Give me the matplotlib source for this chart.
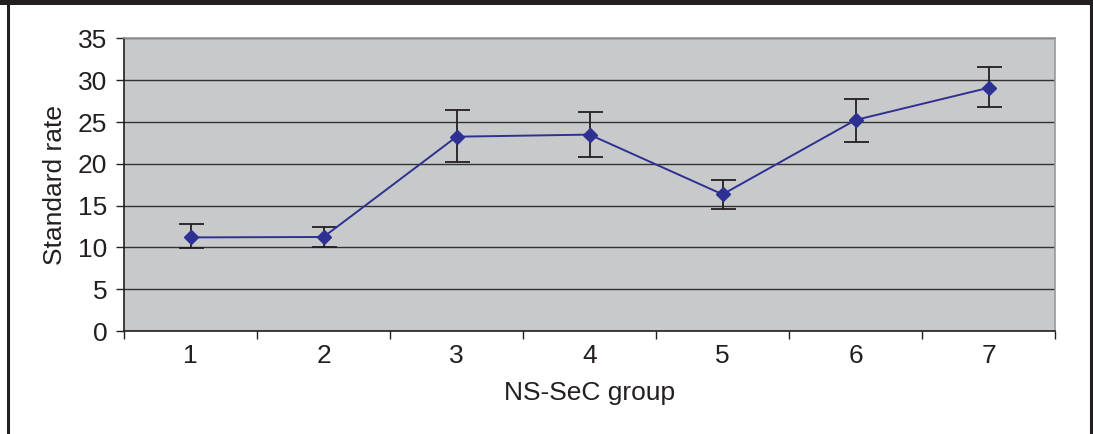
import matplotlib.pyplot as plt
from matplotlib.lines import Line2D
import numpy as np

plt.rcParams['font.family'] = ['Liberation Sans', 'DejaVu Sans']

# values
groups = [1, 2, 3, 4, 5, 6, 7]
rate = [11.2, 11.25, 23.25, 23.5, 16.35, 25.25, 29.1]
err_low = [9.9, 10.05, 20.2, 20.8, 14.6, 22.65, 26.8]
err_high = [12.8, 12.45, 26.4, 26.2, 18.05, 27.75, 31.6]

rate = np.array(rate)
yerr = [rate - np.array(err_low), np.array(err_high) - rate]

fig = plt.figure(figsize=(10.93, 4.34), dpi=100)
ax = fig.add_axes([0.1135, 0.2373, 0.8518, 0.674])
ax.set_facecolor('#C8C9CB')

txt = '#231F20'

# frame around the figure
fig.add_artist(plt.Rectangle((0, 1 - 5/434), 1, 5/434, transform=fig.transFigure,
                             color='#231F20', lw=0))
fig.add_artist(Line2D([7.5/1093, 7.5/1093], [0, 1], transform=fig.transFigure,
                      color='#231F20', lw=2.2))
fig.add_artist(Line2D([1090.5/1093, 1090.5/1093], [0, 1], transform=fig.transFigure,
                      color='#231F20', lw=2.2))

ax.errorbar(groups, rate, yerr=yerr, fmt='none', ecolor=txt, elinewidth=1.3,
            capsize=9, capthick=1.3, zorder=3)
ax.plot(groups, rate, color='#2E3192', lw=1.4, marker='D', markersize=7,
        markerfacecolor='#2E3192', markeredgecolor='#2E3192', zorder=4)

ax.set_ylim(0, 35)
ax.set_yticks(range(0, 36, 5))
ax.set_xlim(0.5, 7.5)
ax.set_xticks(groups)
ax.set_xticks(np.arange(0.5, 7.6, 1), minor=True)

ax.yaxis.grid(True, color='#333333', lw=1)
ax.set_axisbelow(True)

for s in ['top', 'right']:
    ax.spines[s].set_color('#9A9A9A')
    ax.spines[s].set_linewidth(1.2)
for s in ['left', 'bottom']:
    ax.spines[s].set_color(txt)
    ax.spines[s].set_linewidth(1.2)

ax.tick_params(axis='x', which='major', length=0, pad=9, labelsize=19, labelcolor=txt)
ax.tick_params(axis='x', which='minor', length=6, width=1, color=txt)
ax.tick_params(axis='y', length=6, width=1, color=txt, pad=6, labelsize=19, labelcolor=txt)

ax.set_xlabel('NS-SeC group', fontsize=19, color=txt, labelpad=10)
ax.set_ylabel('Standard rate', fontsize=19, color=txt, labelpad=8)

fig.savefig('out.png', dpi=100)
